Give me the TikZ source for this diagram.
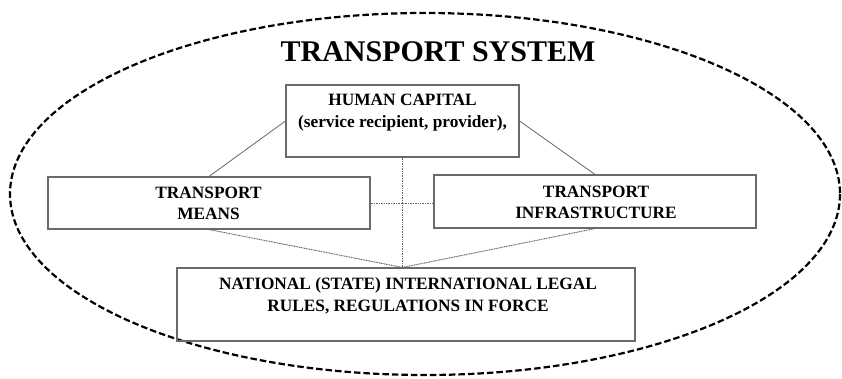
\documentclass[tikz,border=0pt]{standalone}
\usepackage{fontspec}
\setmainfont{Liberation Serif}
\begin{document}
\begin{tikzpicture}[x=1pt,y=-1pt,
  box/.style={draw=boxgray,line width=1.1pt,fill=none,inner sep=0pt},
  boxtext/.style={font=\bfseries\fontsize{17.3}{21.5}\selectfont,align=center,inner sep=0pt,anchor=north},
  solidlink/.style={draw=linkgray,line width=0.8pt},
  dotlink/.style={draw=linkgray,line width=1pt,dash pattern=on 1pt off 0.7pt}]
\definecolor{boxgray}{HTML}{6A6A6A}
\definecolor{linkgray}{HTML}{666666}
\useasboundingbox (0,0) rectangle (842,378);
\fill[white] (0,0) rectangle (842,378);

% outer system boundary
\draw[line width=2.2pt,dash pattern=on 6.5pt off 3pt] (425,194) ellipse [x radius=415, y radius=181];
\node[font=\bfseries\fontsize{30}{34}\selectfont,inner sep=0pt,anchor=north] (title) at (438,41) {TRANSPORT SYSTEM};

% component boxes
\node[box,minimum width=233,minimum height=72] (hc) at (402.5,121) {};
\node[box,minimum width=322,minimum height=52] (tm) at (209,203) {};
\node[box,minimum width=322,minimum height=53] (ti) at (595,201.5) {};
\node[box,minimum width=458,minimum height=73] (rules) at (406,304.5) {};

% box labels
\node[boxtext] (hct) at (402.5,94) {HUMAN CAPITAL\\(service recipient, provider),};
\node[boxtext] (tmt) at (208.5,186.5) {TRANSPORT\\MEANS};
\node[boxtext] (tit) at (596,185.5) {TRANSPORT\\INFRASTRUCTURE};
\node[boxtext] (rulest) at (408,277.5) {NATIONAL (STATE) INTERNATIONAL LEGAL\\RULES, REGULATIONS IN FORCE};

% links between the components
\draw[solidlink] (hc.west) -- (tm.north);
\draw[solidlink] (hc.east) -- (ti.north);
\draw[dotlink] (tm.east) -- (tm.east -| ti.west);
\draw[dotlink] (hc.south) -- (hc.south |- rules.north);
\draw[dotlink] (tm.south) -- (hc.south |- rules.north);
\draw[dotlink] (ti.south) -- (hc.south |- rules.north);
\end{tikzpicture}
\end{document}
